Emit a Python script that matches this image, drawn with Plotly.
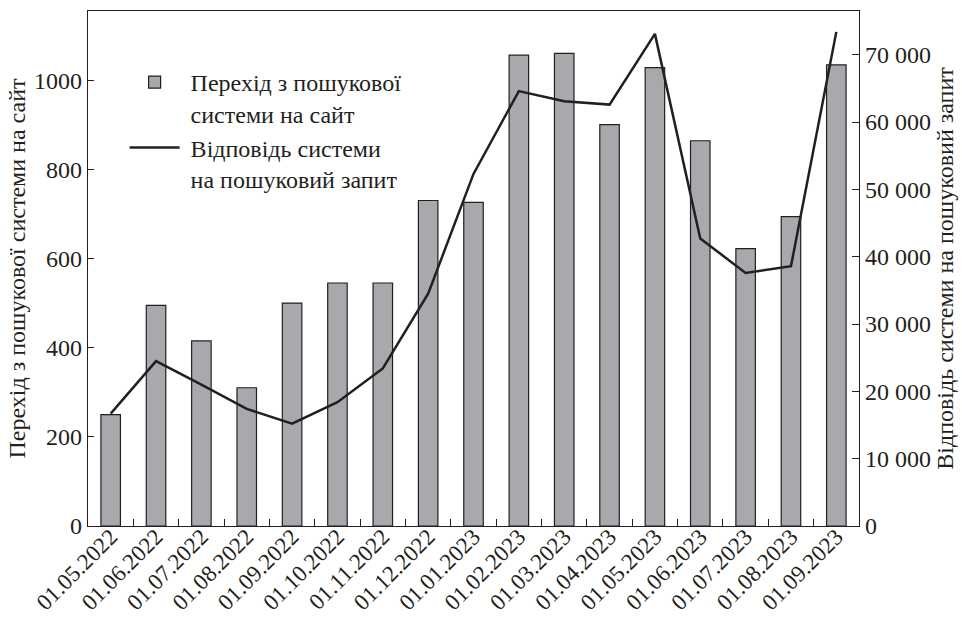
import plotly.graph_objects as go

dates = ["01.05.2022", "01.06.2022", "01.07.2022", "01.08.2022", "01.09.2022",
         "01.10.2022", "01.11.2022", "01.12.2022", "01.01.2023", "01.02.2023",
         "01.03.2023", "01.04.2023", "01.05.2023", "01.06.2023", "01.07.2023",
         "01.08.2023", "01.09.2023"]
transitions = [250, 495, 415, 310, 500, 545, 545, 730, 726, 1056, 1060, 900,
               1028, 864, 622, 694, 1034]
responses = [16700, 24500, 21000, 17400, 15200, 18400, 23400, 34500, 52300,
             64600, 63100, 62600, 73100, 42700, 37600, 38600, 73400]
left_ticks = [0, 200, 400, 600, 800, 1000]
right_ticks = [0, 10000, 20000, 30000, 40000, 50000, 60000, 70000]

FONT = "Liberation Serif, Times New Roman, serif"
INK = "#231f20"
NB = "\u00a0"

fig = go.Figure()
fig.add_trace(go.Bar(
    x=dates, y=transitions,
    name=NB + "Перехід з пошукової<br>" + NB + "системи на сайт",
    marker=dict(color="#a7a9ac", line=dict(color=INK, width=1.2)),
    yaxis="y",
))
fig.add_trace(go.Scatter(
    x=dates, y=responses,
    name=NB + "Відповідь системи<br>" + NB + "на пошуковий запит",
    mode="lines", line=dict(color=INK, width=2.5), yaxis="y2",
))

fig.update_layout(
    width=962, height=622,
    margin=dict(l=88, r=103, t=11, b=96),
    paper_bgcolor="white", plot_bgcolor="white",
    font=dict(family=FONT, size=24, color=INK),
    separators=". ",
    bargap=0.57,
    showlegend=True,
    legend=dict(
        x=0.0475, y=0.905, xanchor="left", yanchor="top",
        font=dict(family=FONT, size=24, color=INK),
        bgcolor="rgba(0,0,0,0)", itemwidth=50, valign="top",
        tracegroupgap=0,
    ),
    xaxis=dict(
        type="category", range=[-0.5, 16.5], tickangle=-45, automargin=False,
        showline=True, linecolor=INK, linewidth=1.3, mirror=True,
        ticks="inside", ticklen=7, tickcolor=INK, tickson="boundaries",
        tickfont=dict(family=FONT, size=23, color=INK),
        ticklabelstandoff=-13,
        showgrid=False, zeroline=False,
    ),
    yaxis=dict(
        range=[0, 1155], tickvals=left_ticks, automargin=False,
        showline=True, linecolor=INK, linewidth=1.3,
        ticks="inside", ticklen=6, tickcolor=INK,
        tickfont=dict(family=FONT, size=24, color=INK),
        showgrid=False, zeroline=False,
        title=dict(text="Перехід з пошукової системи на сайт",
                   font=dict(family=FONT, size=24, color=INK), standoff=1),
    ),
    yaxis2=dict(
        range=[0, 76500], tickvals=right_ticks, overlaying="y", side="right",
        automargin=False, exponentformat="none",
        showline=True, linecolor=INK, linewidth=1.3,
        ticks="inside", ticklen=7, tickcolor=INK,
        tickfont=dict(family=FONT, size=24, color=INK),
        showgrid=False, zeroline=False,
        title=dict(text="Відповідь системи на пошуковий запит",
                   font=dict(family=FONT, size=24, color=INK), standoff=6),
    ),
)

fig.write_html(
    "out.html",
    config={"displayModeBar": False},
    post_script="document.body.style.margin='0';document.body.style.padding='0';"
                "document.body.style.overflow='hidden';",
)
